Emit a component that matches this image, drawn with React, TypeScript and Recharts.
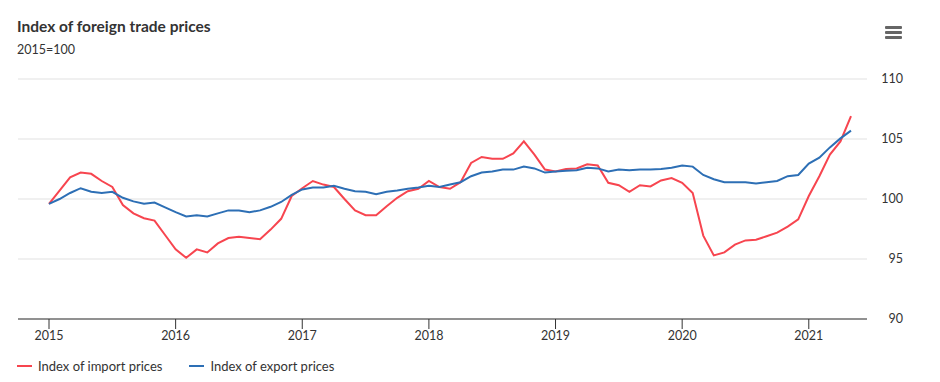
import React from 'react';
import { LineChart, Line, XAxis, YAxis, CartesianGrid } from 'recharts';

// Monthly values, Jan 2015 .. May 2021 (2015=100)
const importPrices = [
  99.6, 100.7, 101.8, 102.2, 102.1, 101.5, 101.0, 99.5, 98.8, 98.4, 98.2, 97.0,
  95.8, 95.1, 95.8, 95.55, 96.3, 96.75, 96.85, 96.75, 96.65, 97.45, 98.35, 100.25,
  100.9, 101.5, 101.2, 101.0, 100.0, 99.05, 98.65, 98.65, 99.4, 100.1, 100.65, 100.85,
  101.5, 101.0, 100.85, 101.4, 103.0, 103.5, 103.35, 103.35, 103.8, 104.8, 103.7, 102.45,
  102.3, 102.5, 102.55, 102.9, 102.8, 101.35, 101.15, 100.6, 101.15, 101.05, 101.55, 101.75,
  101.35, 100.5, 96.95, 95.3, 95.55, 96.2, 96.55, 96.6, 96.9, 97.2, 97.7, 98.3,
  100.25, 101.9, 103.7, 104.8, 106.9,
];

const exportPrices = [
  99.6, 100.0, 100.5, 100.9, 100.6, 100.5, 100.6, 100.1, 99.8, 99.6, 99.7, 99.3,
  98.9, 98.55, 98.65, 98.55, 98.8, 99.05, 99.05, 98.9, 99.05, 99.35, 99.75, 100.35,
  100.8, 100.95, 100.95, 101.1, 100.85, 100.65, 100.6, 100.4, 100.6, 100.7, 100.85, 100.95,
  101.1, 101.0, 101.2, 101.4, 101.9, 102.2, 102.3, 102.45, 102.45, 102.7, 102.55, 102.2,
  102.3, 102.35, 102.4, 102.6, 102.55, 102.3, 102.45, 102.4, 102.45, 102.45, 102.5, 102.6,
  102.8, 102.7, 102.0, 101.65, 101.4, 101.4, 101.4, 101.3, 101.4, 101.5, 101.9, 102.0,
  102.95, 103.45, 104.3, 105.05, 105.7,
];

const startYear = 2015;
const yearTicks = [2015, 2016, 2017, 2018, 2019, 2020, 2021];
const valueTicks = [90, 95, 100, 105, 110];

const RED = '#f7454f';
const BLUE = '#2d6fb5';
const FONT = 'Lato, "Noto Sans", sans-serif';

const data = importPrices.map((v, i) => ({
  t: startYear + i / 12,
  imp: v,
  exp: exportPrices[i],
}));

const RightTick = (props: any) => {
  const { y, payload } = props;
  return (
    <text x={903} y={y} dy={4} textAnchor="end" fontSize={12.5} fill="#333" fontFamily={FONT}>
      {payload.value}
    </text>
  );
};

const LegendItem = ({ color, label }: { color: string; label: string }) => (
  <div style={{ display: 'flex', alignItems: 'center', marginRight: 27 }}>
    <span style={{ width: 15, height: 2, background: color, marginRight: 6 }}></span>
    <span>{label}</span>
  </div>
);

export default function App() {
  return (
    <div style={{ position: 'relative', width: 940, height: 382, background: '#fff', fontFamily: FONT, color: '#333' }}>
      <style>{`body{margin:0}`}</style>
      <div style={{ position: 'absolute', left: 17, top: 17, fontSize: 15.5, fontWeight: 700 }}>
        Index of foreign trade prices
      </div>
      <div style={{ position: 'absolute', left: 17, top: 42, fontSize: 12.5 }}>2015=100</div>

      {/* menu icon */}
      <div style={{ position: 'absolute', left: 885, top: 26 }}>
        {[0, 5, 10].map((o) => (
          <div key={o} style={{ position: 'absolute', top: o, width: 17, height: 2.5, background: '#666', borderRadius: 1 }}></div>
        ))}
      </div>

      <div style={{ position: 'absolute', left: 0, top: 0 }}>
        <LineChart width={940} height={382} data={data} margin={{ top: 79, right: 33, bottom: 33, left: 18 }}>
          <CartesianGrid horizontal vertical={false} stroke="#f0f0f0" strokeWidth={2} />
          <XAxis
            dataKey="t"
            type="number"
            domain={[startYear, startYear + (importPrices.length - 1) / 12]}
            ticks={yearTicks}
            padding={{ left: 31, right: 16 }}
            height={30}
            axisLine={{ stroke: '#333' }}
            tickLine={{ stroke: '#333' }}
            tickSize={10}
            tick={{ fontSize: 12.5, fill: '#333', fontFamily: FONT }}
            tickFormatter={(v) => String(Math.round(v))}
            interval={0}
          />
          <YAxis
            orientation="right"
            domain={[90, 110]}
            ticks={valueTicks}
            width={40}
            axisLine={false}
            tickLine={false}
            tick={<RightTick />}
          />
          <Line type="linear" dataKey="imp" stroke={RED} strokeWidth={2} dot={false} isAnimationActive={false} />
          <Line type="linear" dataKey="exp" stroke={BLUE} strokeWidth={2} dot={false} isAnimationActive={false} />
        </LineChart>
      </div>

      <div style={{ position: 'absolute', left: 17, top: 358, display: 'flex', fontSize: 13 }}>
        <LegendItem color={RED} label="Index of import prices" />
        <LegendItem color={BLUE} label="Index of export prices" />
      </div>
    </div>
  );
}
